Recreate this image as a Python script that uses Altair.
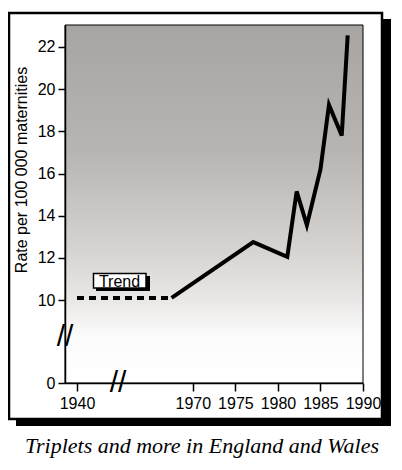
import altair as alt
import pandas as pd

# ---- data ----
trend_years = [1940, 1967.5]
trend_rates = [10.1, 10.1]

years = [1967.5, 1977.1, 1981.1, 1982.2, 1983.4, 1985.0, 1986.0, 1987.5, 1988.2]
rates = [10.1, 12.75, 12.05, 15.15, 13.55, 16.2, 19.25, 17.8, 22.55]

x_ticks = [1940, 1970, 1975, 1980, 1985, 1990]
y_ticks = [0, 10, 12, 14, 16, 18, 20, 22]

W, H = 298, 358

trend_df = pd.DataFrame({"year": trend_years, "rate": trend_rates})
line_df = pd.DataFrame({"year": years, "rate": rates})

# broken (piecewise) scales
xscale = alt.Scale(domain=[1937, 1940, 1961.2, 1990], range=[0, 12, 53, 298], nice=False, zero=False)
yscale = alt.Scale(domain=[0, 8.25, 23.04], range=[358, 312, 0], nice=False, zero=False)

xaxis = alt.Axis(values=x_ticks, format="d", title=None, grid=False, tickSize=8,
                 labelPadding=4, labelFont="Liberation Sans", labelFontSize=16,
                 labelColor="black", domainColor="black", tickColor="black",
                 domainWidth=1.5, tickWidth=1.5, labelFlush=False, zindex=2)
yaxis = alt.Axis(values=y_ticks, title=None, grid=False, tickSize=7,
                 labelPadding=3, labelFont="Liberation Sans", labelFontSize=16,
                 labelColor="black", domainColor="black", tickColor="black",
                 domainWidth=1.5, tickWidth=1.5, zindex=2)

# frame with drop shadow
shadow = alt.Chart().mark_rect(fill="black").encode(
    x=alt.value(-49), x2=alt.value(326), y=alt.value(-6), y2=alt.value(401))
frame = alt.Chart().mark_rect(fill="white", stroke="black", strokeWidth=2.5).encode(
    x=alt.value(-56), x2=alt.value(317), y=alt.value(-12), y2=alt.value(394))

grad = alt.Gradient(
    gradient="linear", x1=0, x2=0, y1=0, y2=1,
    stops=[
        alt.GradientStop(offset=0.0, color="#a8a4a2"),
        alt.GradientStop(offset=0.35, color="#b8b4b2"),
        alt.GradientStop(offset=0.63, color="#d6d3d1"),
        alt.GradientStop(offset=0.77, color="#eae8e6"),
        alt.GradientStop(offset=0.87, color="#fbfbfb"),
        alt.GradientStop(offset=1.0, color="#ffffff"),
    ])
bg = alt.Chart().mark_rect(fill=grad, stroke="black", strokeWidth=1).encode(
    x=alt.value(0), x2=alt.value(W), y=alt.value(0), y2=alt.value(H))

trend = alt.Chart(trend_df).mark_line(color="black", strokeWidth=4, strokeDash=[7, 5]).encode(
    x=alt.X("year:Q", scale=xscale, axis=xaxis),
    y=alt.Y("rate:Q", scale=yscale, axis=yaxis))

line = alt.Chart(line_df).mark_line(color="black", strokeWidth=4, strokeJoin="miter").encode(
    x=alt.X("year:Q", scale=xscale),
    y=alt.Y("rate:Q", scale=yscale))

# axis breaks
brk_df = pd.DataFrame({"year": [1937, 1961.2], "rate": [8.25, 0]})
breaks = alt.Chart(brk_df).mark_text(text="//", font="Liberation Sans", fontSize=30,
                                     color="black", align="center", baseline="middle").encode(
    x=alt.X("year:Q", scale=xscale), y=alt.Y("rate:Q", scale=yscale))

# Trend label box
tshadow = alt.Chart().mark_rect(fill="black").encode(
    x=alt.value(31), x2=alt.value(85), y=alt.value(251), y2=alt.value(266))
tbox = alt.Chart().mark_rect(fill="white", stroke="black", strokeWidth=1.5).encode(
    x=alt.value(28.5), x2=alt.value(81), y=alt.value(248.5), y2=alt.value(263))
ttext = alt.Chart().mark_text(text="Trend", font="Liberation Sans", fontSize=16,
                              color="black", align="center", baseline="middle").encode(
    x=alt.value(54.5), y=alt.value(256.5))

ytitle = alt.Chart().mark_text(text="Rate per 100 000 maternities", font="Liberation Sans",
                               fontSize=16, angle=270, color="black",
                               align="center", baseline="middle").encode(
    x=alt.value(-43), y=alt.value(145))

caption = alt.Chart().mark_text(text="Triplets and more in England and Wales",
                                font="Liberation Serif", fontStyle="italic", fontSize=22,
                                color="black", align="center", baseline="alphabetic").encode(
    x=alt.value(137), y=alt.value(428))

chart = alt.layer(shadow, frame, bg, trend, line, breaks, tshadow, tbox, ttext, ytitle, caption).properties(
    width=W, height=H,
    autosize=alt.AutoSizeParams(type="none"),
    padding={"left": 57, "top": 17, "right": 30, "bottom": 80},
    background="white",
).configure_view(stroke=None)

chart.save("out.html", embed_options={"renderer": "svg", "actions": False})
